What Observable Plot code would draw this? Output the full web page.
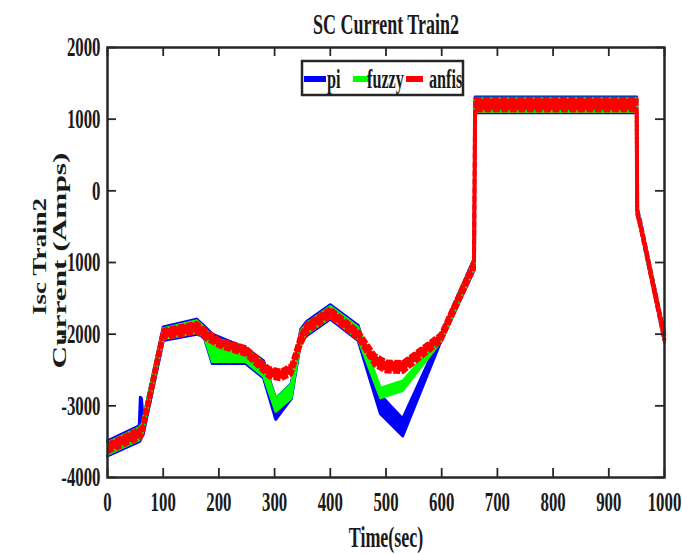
<!DOCTYPE html>
<html>
<head>
<meta charset="utf-8">
<script src="https://cdn.jsdelivr.net/npm/d3@7"></script>
<script src="https://cdn.jsdelivr.net/npm/@observablehq/plot@0.6"></script>
<style>
  html, body { margin: 0; padding: 0; background: #fff; }
  #chart svg { display: block; }
</style>
</head>
<body>
<div id="chart"></div>
<script>
// ---------- data ----------
const chartTitle = "SC Current Train2";
const xLabel = "Time(sec)";
const yLabel1 = "Isc Train2";
const yLabel2 = "Current (Amps)";

const xTicks = [0, 100, 200, 300, 400, 500, 600, 700, 800, 900, 1000];
const yTicks = [-4000, -3000, -2000, -1000, 0, 1000, 2000];

const seriesNames = ["pi", "fuzzy", "anfis"];
const seriesColors = ["#0000ff", "#00ff00", "#ff0000"];

// pi controller: upper / lower envelope of the rippling current
const piT  = [0, 57, 59, 61, 64, 100, 160, 173, 188, 248, 280, 302, 330, 347, 358, 400, 450, 490, 530, 598, 658, 660, 950, 951, 957, 1000];
const piHi = [-3490, -3280, -2880, -2900, -3200, -1900, -1790, -1880, -2000, -2190, -2370, -2900, -2690, -1930, -1820, -1590, -1880, -2850, -3180, -2020, -950, 1310, 1310, -250, -440, -2000];
const piLo = [-3700, -3500, -3480, -3440, -3400, -2090, -2000, -2030, -2410, -2410, -2610, -3190, -2900, -2100, -2020, -1790, -2090, -3110, -3420, -2110, -1110, 1090, 1090, -330, -520, -2110];

// fuzzy controller
const fuzzyT  = [0, 57, 62, 100, 160, 173, 188, 248, 280, 302, 330, 347, 358, 400, 450, 490, 530, 598, 658, 660, 950, 951, 957, 1000];
const fuzzyHi = [-3510, -3300, -3250, -1920, -1810, -1900, -2040, -2200, -2390, -2900, -2690, -1950, -1840, -1610, -1900, -2750, -2650, -2040, -960, 1295, 1295, -255, -445, -2010];
const fuzzyLo = [-3680, -3480, -3420, -2070, -1980, -2020, -2385, -2385, -2590, -3080, -2890, -2090, -2000, -1770, -2070, -2890, -2790, -2110, -1100, 1105, 1105, -325, -515, -2100];

// anfis controller
const anfisT  = [0, 57, 62, 100, 160, 175, 200, 248, 290, 312, 330, 347, 358, 400, 450, 480, 500, 530, 598, 658, 660, 950, 951, 957, 1000];
const anfisHi = [-3530, -3320, -3300, -1940, -1840, -1930, -2070, -2180, -2470, -2510, -2430, -2000, -1850, -1640, -1950, -2290, -2380, -2390, -2000, -975, 1280, 1280, -260, -450, -2020];
const anfisLo = [-3650, -3460, -3420, -2060, -1975, -2060, -2170, -2290, -2600, -2630, -2560, -2150, -1980, -1760, -2070, -2440, -2520, -2530, -2110, -1090, 1120, 1120, -320, -510, -2090];

// ---------- chart ----------
const ink = "#1a1a1a";
const axisInk = "#262626";
const FONT = "'Liberation Serif', 'Times New Roman', serif";
const W = 682, H = 554, ML = 107, MR = 18, MT = 47, MB = 77;
const innerW = W - ML - MR, innerH = H - MT - MB;
const tickLen = 9;

function band(T, Hi, Lo, color, width, dash) {
  return [
    Plot.areaY(T, {x: T, y1: Lo, y2: Hi, fill: color}),
    Plot.line(T, {x: T, y: Hi, stroke: color, strokeWidth: width, strokeDasharray: dash, strokeLinecap: dash ? "butt" : "round"}),
    Plot.line(T, {x: T, y: Lo, stroke: color, strokeWidth: width, strokeDasharray: dash, strokeLinecap: dash ? "butt" : "round"})
  ];
}

const axisText = {fontSize: 28, fontWeight: "bold", fill: ink, tickSize: 0, label: null, tickFormat: d => String(d)};

const chart = Plot.plot({
  width: W,
  height: H,
  marginLeft: ML,
  marginRight: MR,
  marginTop: MT,
  marginBottom: MB,
  style: {fontFamily: FONT, background: "#fff", color: ink},
  x: {domain: [0, 1000], label: null},
  y: {domain: [-4000, 2000], label: null},
  marks: [
    ...band(piT, piHi, piLo, seriesColors[0], 3, null),
    ...band(fuzzyT, fuzzyHi, fuzzyLo, seriesColors[1], 2.5, null),
    ...band(anfisT, anfisHi, anfisLo, seriesColors[2], 4, "7,1.5"),
    // inward ticks on all four sides (MATLAB box style)
    Plot.tickX(xTicks, {x: d => d, insetTop: innerH - tickLen, stroke: axisInk, strokeWidth: 1.8}),
    Plot.tickX(xTicks, {x: d => d, insetBottom: innerH - tickLen, stroke: axisInk, strokeWidth: 1.8}),
    Plot.tickY(yTicks, {y: d => d, insetRight: innerW - tickLen, stroke: axisInk, strokeWidth: 1.8}),
    Plot.tickY(yTicks, {y: d => d, insetLeft: innerW - tickLen, stroke: axisInk, strokeWidth: 1.8}),
    Plot.frame({stroke: axisInk, strokeWidth: 2.5}),
    Plot.axisX(xTicks, {anchor: "bottom", tickPadding: 14, ...axisText}),
    Plot.axisY(yTicks, {anchor: "left", tickPadding: 7, ...axisText}),
    Plot.text([chartTitle], {text: d => d, frameAnchor: "top", dy: -14, lineAnchor: "bottom", textAnchor: "middle", fontSize: 30, fontWeight: "bold", fill: ink}),
    Plot.text([xLabel], {text: d => d, frameAnchor: "bottom", dy: 69, lineAnchor: "bottom", textAnchor: "middle", fontSize: 30, fontWeight: "bold", fill: ink}),
    Plot.text([yLabel1], {text: d => d, frameAnchor: "left", dx: -62, dy: -6, rotate: -90, lineAnchor: "bottom", textAnchor: "middle", fontSize: 33, fontWeight: "bold", fill: ink}),
    Plot.text([yLabel2], {text: d => d, frameAnchor: "left", dx: -42, dy: -2, rotate: -90, lineAnchor: "bottom", textAnchor: "middle", fontSize: 33, fontWeight: "bold", fill: ink})
  ]
});

document.getElementById("chart").appendChild(chart);

// narrow, tall lettering like the reference: scale each text about its own anchor
function squeeze(el, sx, sy) {
  const t = el.getAttribute("transform") || "";
  el.setAttribute("transform", `${t} scale(${sx},${sy})`);
  const xa = el.getAttribute("x");
  if (xa && /^-?[\d.]+$/.test(xa)) el.setAttribute("x", +xa / sx);
}
const fixedLengths = new Map([[yLabel1, 117], [yLabel2, 216]]);
d3.select(chart).selectAll("text").each(function () {
  const s = this.textContent;
  if (!s) return;
  if (fixedLengths.has(s)) {
    const w = this.getComputedTextLength();
    squeeze(this, fixedLengths.get(s) / w, 0.6);
  } else {
    squeeze(this, 0.6, 1);
  }
});

// legend inside the axes (top centre)
const svg = d3.select(chart);
const lg = svg.append("g").attr("font-family", FONT).attr("font-weight", "bold").attr("font-size", 27)
  .attr("fill", ink).attr("text-anchor", "start");
lg.append("rect").attr("x", 302).attr("y", 61).attr("width", 161).attr("height", 34)
  .attr("fill", "#fff").attr("stroke", axisInk).attr("stroke-width", 2.5);
const sampleX = [[304, 326], [353, 370], [406, 423]];
const textX = [327, 367, 429];
seriesNames.forEach((name, i) => {
  lg.append("line").attr("x1", sampleX[i][0]).attr("x2", sampleX[i][1]).attr("y1", 79).attr("y2", 79)
    .attr("stroke", seriesColors[i]).attr("stroke-width", 6);
  lg.append("text").attr("transform", `translate(${textX[i]},88) scale(0.6,1)`).text(name);
});
</script>
</body>
</html>
